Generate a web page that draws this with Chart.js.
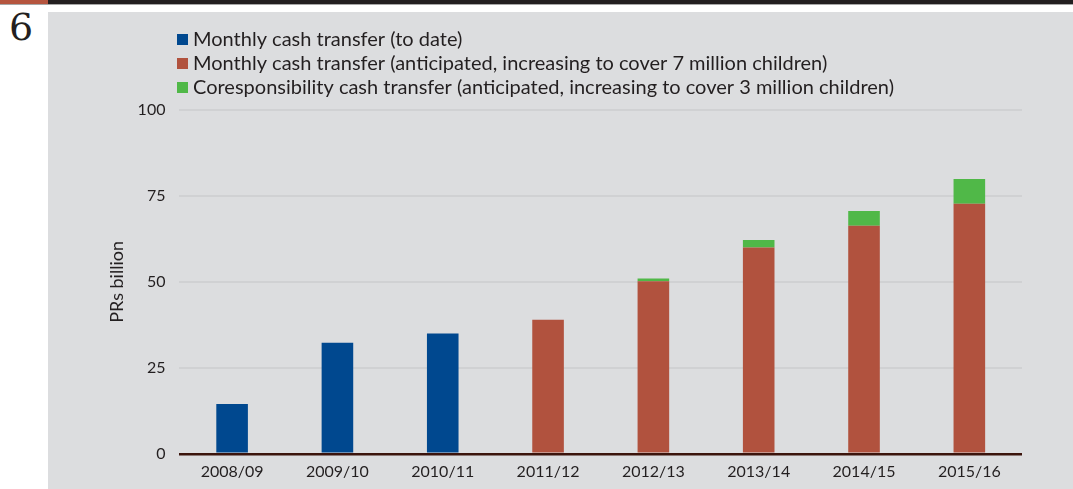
<!DOCTYPE html>
<html>
<head>
<meta charset="utf-8">
<script src="https://cdn.jsdelivr.net/npm/chart.js@4.4.0/dist/chart.umd.min.js"></script>
<style>
  html, body { margin: 0; padding: 0; background: #ffffff; width: 1073px; height: 489px; overflow: hidden; }
  #topbar { position: absolute; left: 0; top: 0; width: 1073px; height: 4px; background: #231f20; }
  #topred { position: absolute; left: 0; top: 0; width: 48px; height: 4px; background: #b5553f; }
  #topline { position: absolute; left: 0; top: 4px; width: 1073px; height: 1px; background: #a7a7a7; }
  #num { position: absolute; left: 9px; top: 5px; font-family: "DejaVu Serif", "Liberation Serif", serif; font-size: 38px; color: #231f20; }
  #panel { position: absolute; left: 48px; top: 12px; width: 1025px; height: 477px; background: #dcdddf; }
</style>
</head>
<body>
<div id="topbar"></div><div id="topred"></div><div id="topline"></div>
<div id="num">6</div>
<div id="panel"><canvas id="c" width="1025" height="477"></canvas></div>
<script>
const categories = ["2008/09","2009/10","2010/11","2011/12","2012/13","2013/14","2014/15","2015/16"];
const toDate = [14.5, 32.3, 35.0, null, null, null, null, null];
const anticipatedMonthly = [null, null, null, 39.0, 50.2, 60.0, 66.3, 72.7];
const coresponsibility = [null, null, null, null, 0.8, 2.2, 4.3, 7.2];
const seriesNames = [
  "Monthly cash transfer (to date)",
  "Monthly cash transfer (anticipated, increasing to cover 7 million children)",
  "Coresponsibility cash transfer (anticipated, increasing to cover 3 million children)"
];
const yTicks = [0, 25, 50, 75, 100];
const colors = ["#00488f", "#b1523e", "#50b848"];
const FONT = "Lato, 'Open Sans', sans-serif";

const legendPlugin = {
  id: 'stackLegend',
  afterDraw(chart) {
    const ctx = chart.ctx;
    ctx.save();
    ctx.font = "20px " + FONT;
    ctx.textBaseline = 'middle';
    chart.data.datasets.forEach((ds, i) => {
      const y = 27 + i * 24;
      ctx.fillStyle = ds.backgroundColor;
      ctx.fillRect(129, y - 5, 11, 11);
      ctx.fillStyle = '#231f20';
      ctx.fillText(ds.label, 145, y + 1);
    });
    ctx.restore();
  }
};

new Chart(document.getElementById('c'), {
  type: 'bar',
  data: {
    labels: categories,
    datasets: [
      { label: seriesNames[0], data: toDate, backgroundColor: colors[0] },
      { label: seriesNames[1], data: anticipatedMonthly, backgroundColor: colors[1] },
      { label: seriesNames[2], data: coresponsibility, backgroundColor: colors[2] }
    ]
  },
  options: {
    responsive: false,
    animation: false,
    layout: { padding: { top: 98, right: 51, bottom: 0, left: 58 } },
    datasets: { bar: { categoryPercentage: 1.0, barPercentage: 0.30 } },
    plugins: { legend: { display: false }, tooltip: { enabled: false } },
    scales: {
      x: {
        stacked: true,
        grid: { display: false, drawTicks: false },
        border: { display: false },
        ticks: { color: '#231f20', font: { family: FONT, size: 16 }, padding: 8 }
      },
      y: {
        stacked: true,
        min: 0, max: 100,
        afterBuildTicks: (axis) => { axis.ticks = yTicks.map(v => ({ value: v })); },
        grid: {
          drawTicks: false,
          color: (c) => c.tick && c.tick.value === 0 ? '#3b140c' : '#d0d1d3',
          lineWidth: (c) => c.tick && c.tick.value === 0 ? 2.5 : 2,
          z: 0
        },
        border: { display: false },
        ticks: { color: '#231f20', font: { family: FONT, size: 16 }, padding: 14 },
        title: { display: true, text: 'PRs billion', color: '#231f20', font: { family: FONT, size: 18 }, padding: { top: 0, bottom: -4 } }
      }
    }
  },
  plugins: [legendPlugin]
});
</script>
</body>
</html>
